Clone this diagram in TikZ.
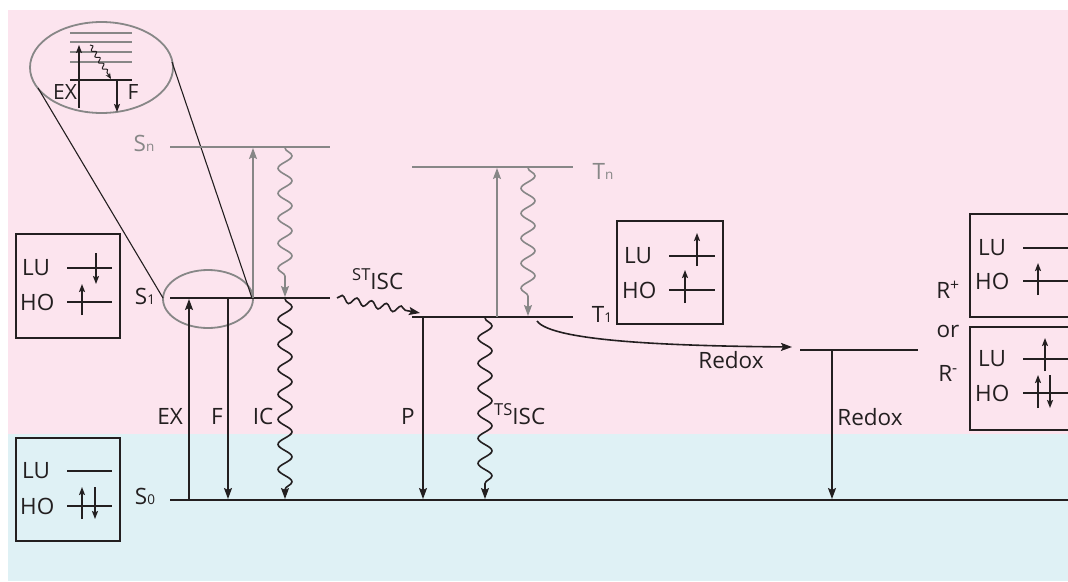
\documentclass[tikz,border=0pt]{standalone}
\usepackage{fontspec}
\setmainfont{Open Sans}
\usetikzlibrary{arrows.meta,decorations.pathmorphing,shapes.geometric}
\definecolor{pinkbg}{RGB}{252,228,238}
\definecolor{cyanbg}{RGB}{223,241,245}
\definecolor{lvlgray}{RGB}{135,135,135}
\definecolor{ink}{RGB}{35,31,32}
\newcommand\lowsub[1]{{\fontsize{13.5}{13.5}\selectfont #1}}
\newcommand\hisup[1]{\raisebox{8.5pt}{\fontsize{16.5}{16.5}\selectfont #1}}
\begin{document}
\begin{tikzpicture}[x=1pt,y=-1pt,
  font=\fontsize{22.5}{26}\selectfont,
  lvl/.style={ink,line width=2.2pt},
  glvl/.style={lvlgray,line width=2.2pt},
  arr/.style={ink,line width=1.6pt,-{Stealth[length=11pt,width=8pt,inset=2pt]}},
  garr/.style={lvlgray,line width=1.6pt,-{Stealth[length=11pt,width=8pt,inset=2pt]}},
  wavy/.style={decorate,decoration={snake,amplitude=7pt,segment length=25pt,post length=9pt}},
  orb/.style={ink,line width=1.6pt},
  oarr/.style={ink,line width=1.6pt,-{Stealth[length=8pt,width=6pt,inset=1.5pt]}},
  boxst/.style={draw=ink,line width=2pt,inner sep=0,anchor=north west},
  lbl/.style={inner sep=0,text=ink},
  glbl/.style={inner sep=0,text=lvlgray}]
\clip (0,0) rectangle (1068,581);
% backgrounds
\fill[white] (0,0) rectangle (1068,581);
\fill[pinkbg] (8,10) rectangle (1068,434);
\fill[cyanbg] (8,434) rectangle (1068,581);

% level coordinates
\coordinate (sn-l) at (170,147); \coordinate (sn-r) at (330,147);
\coordinate (s1-l) at (170,298); \coordinate (s1-r) at (330,298);
\coordinate (tn-l) at (412,167); \coordinate (tn-r) at (573,167);
\coordinate (t1-l) at (412,317); \coordinate (t1-r) at (573,317);
\coordinate (r-l) at (800,350);  \coordinate (r-r) at (918,350);
\coordinate (s0-l) at (170,500); \coordinate (s0-r) at (1068,500);

% magnifier
\node[draw=lvlgray,line width=1.8pt,ellipse,minimum width=90pt,minimum height=58pt,inner sep=0] (small) at (208,299) {};
\node[draw=lvlgray,line width=1.8pt,ellipse,minimum width=143pt,minimum height=91pt,inner sep=0] (big) at (101.5,67.5) {};
\coordinate (tA1) at (38,88); \coordinate (tA2) at (163,298);
\coordinate (tB1) at (172,62); \coordinate (tB2) at (252,298);
\draw[ink,line width=1.1pt] (tA1) -- (tA2);
\draw[ink,line width=1.1pt] (tB1) -- (tB2);
\foreach \yy in {33,42,52,62} \draw[lvlgray,line width=1.3pt] (70,\yy) -- (132,\yy);
\coordinate (m-l) at (70,80); \coordinate (m-r) at (132,80);
\draw[ink,line width=1.6pt] (m-l) -- (m-r);
\coordinate (mex0) at (79,108); \coordinate (mex1) at (79,45);
\draw[ink,line width=1.3pt,-{Stealth[length=8pt,width=6pt,inset=1.5pt]}] (mex0) -- (mex1);
\coordinate (mf0) at (117,80); \coordinate (mf1) at (117,112);
\draw[ink,line width=1.3pt,-{Stealth[length=8pt,width=6pt,inset=1.5pt]}] (mf0) -- (mf1);
\coordinate (mw0) at (90,45); \coordinate (mw1) at (111,79);
\draw[ink,line width=1pt,decorate,decoration={snake,amplitude=2pt,segment length=7pt,post length=5pt},-{Stealth[length=6pt,width=5pt]}] (mw0) -- (mw1);
\node[lbl,font=\fontsize{21}{24}\selectfont] (mexl) at (65,92) {EX};
\node[lbl,font=\fontsize{21}{24}\selectfont] (mfl) at (133,92) {F};

% levels
\draw[glvl] (sn-l) -- (sn-r);
\draw[lvl] (s1-l) -- (s1-r);
\draw[glvl] (tn-l) -- (tn-r);
\draw[lvl] (t1-l) -- (t1-r);
\draw[lvl] (r-l) -- (r-r);
\draw[lvl] (s0-l) -- (s0-r);

% level labels
\node[glbl] (snlab) at (144,143) {S\lowsub{n}};
\node[lbl] (s1lab) at (145,296) {S\lowsub{1}};
\node[lbl] (s0lab) at (145,496) {S\lowsub{0}};
\node[glbl] (tnlab) at (603,171) {T\lowsub{n}};
\node[lbl] (t1lab) at (602,314) {T\lowsub{1}};

% gray transitions
\coordinate (ga0) at (253,298); \coordinate (ga1) at (253,148);
\draw[garr] (ga0) -- (ga1);
\coordinate (gw0) at (285,148); \coordinate (gw1) at (285,297);
\draw[garr,wavy] (gw0) -- (gw1);
\coordinate (gb0) at (497,317); \coordinate (gb1) at (497,168);
\draw[garr] (gb0) -- (gb1);
\coordinate (gx0) at (528,168); \coordinate (gx1) at (528,316);
\draw[garr,wavy] (gx0) -- (gx1);

% black transitions
\coordinate (ex0) at (189,500); \coordinate (ex1) at (189,299);
\draw[arr] (ex0) -- (ex1);
\coordinate (f0) at (228,299); \coordinate (f1) at (228,499);
\draw[arr] (f0) -- (f1);
\coordinate (ic0) at (285,299); \coordinate (ic1) at (285,499);
\draw[arr,wavy] (ic0) -- (ic1);
\coordinate (p0) at (423,318); \coordinate (p1) at (423,499);
\draw[arr] (p0) -- (p1);
\coordinate (ts0) at (485,318); \coordinate (ts1) at (485,499);
\draw[arr,wavy] (ts0) -- (ts1);
\coordinate (rd0) at (832,351); \coordinate (rd1) at (832,499);
\draw[arr] (rd0) -- (rd1);
\coordinate (st0) at (337,298); \coordinate (st1) at (420,313);
\draw[arr,decorate,decoration={snake,amplitude=3.5pt,segment length=15pt,post length=9pt}] (st0) -- (st1);
\coordinate (rc0) at (537,321); \coordinate (rc1) at (792,347);
\draw[arr] (rc0) .. controls (552,342) and (680,346) .. (rc1);

% transition labels
\node[lbl] (exlab) at (170,416) {EX};
\node[lbl] (flab) at (217,416) {F};
\node[lbl] (iclab) at (263,416) {IC};
\node[lbl] (plab) at (408,416) {P};
\node[lbl,anchor=base west] (tslab) at (494,424) {\hisup{TS}ISC};
\node[lbl,anchor=base west] (stlab) at (352,289) {\hisup{ST}ISC};
\node[lbl] (rdlab1) at (731,360) {Redox};
\node[lbl] (rdlab2) at (870,417) {Redox};
\node[lbl] (rplus) at (948,290) {R\textsuperscript{+}};
\node[lbl] (orlab) at (948,331) {or};
\node[lbl] (rminus) at (948,373) {R\textsuperscript{-}};

% boxes
\node[boxst,minimum width=104pt,minimum height=104pt] (bS1) at (15,233) {};
\node[boxst,minimum width=104pt,minimum height=103pt] (bS0) at (15,437) {};
\node[boxst,minimum width=106pt,minimum height=103pt] (bT1) at (616,220) {};
\node[boxst,minimum width=140pt,minimum height=103pt] (bRp) at (969,213) {};
\node[boxst,minimum width=140pt,minimum height=103pt] (bRm) at (969,326) {};

% box S1
\node[lbl,anchor=west] (s1lu) at (22,268) {LU};
\node[lbl,anchor=west] (s1ho) at (20,302) {HO};
\draw[orb] (67,268) -- (112,268); \draw[oarr] (96,253) -- (96,284);
\draw[orb] (67,302) -- (112,302); \draw[oarr] (82,315) -- (82,284);
% box S0
\node[lbl,anchor=west] (s0lu) at (22,471) {LU};
\node[lbl,anchor=west] (s0ho) at (20,506) {HO};
\draw[orb] (67,471) -- (112,471);
\draw[orb] (67,506) -- (112,506); \draw[oarr] (82,519) -- (82,487); \draw[oarr] (95,487) -- (95,519);
% box T1
\node[lbl,anchor=west] (t1lu) at (624,256) {LU};
\node[lbl,anchor=west] (t1ho) at (622,290) {HO};
\draw[orb] (669,256) -- (715,256); \draw[oarr] (697,266) -- (697,233);
\draw[orb] (669,290) -- (715,290); \draw[oarr] (685,303) -- (685,270);
% box R+
\node[lbl,anchor=west] (rplu) at (978,248) {LU};
\node[lbl,anchor=west] (rpho) at (975,281) {HO};
\draw[orb] (1023,248) -- (1080,248);
\draw[orb] (1023,281) -- (1080,281); \draw[oarr] (1038,295) -- (1038,263);
% box R-
\node[lbl,anchor=west] (rmlu) at (978,359) {LU};
\node[lbl,anchor=west] (rmho) at (975,393) {HO};
\draw[orb] (1023,359) -- (1080,359); \draw[oarr] (1045,371) -- (1045,338);
\draw[orb] (1023,393) -- (1080,393); \draw[oarr] (1038,408) -- (1038,375); \draw[oarr] (1050,375) -- (1050,408);
\end{tikzpicture}
\end{document}
